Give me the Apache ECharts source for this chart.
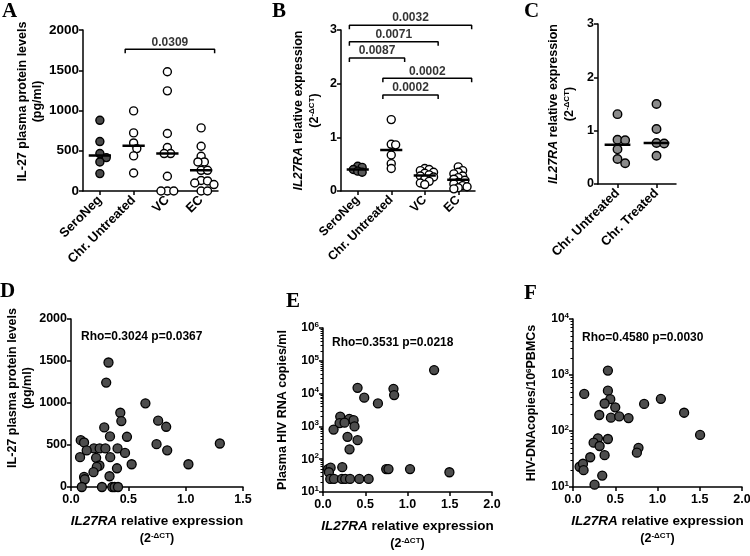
<!DOCTYPE html>
<html>
<head>
<meta charset="utf-8">
<script src="https://cdn.jsdelivr.net/npm/echarts@6/dist/echarts.min.js"></script>
<style>
html, body { margin: 0; padding: 0; background: #fff; }
#charts { width: 750px; height: 556px; }
</style>
</head>
<body>
<div id="charts"></div>
<script>
// ---- data ----
var groupCats = ['SeroNeg', 'Chr. Untreated', 'VC', 'EC'];
var treatCats = ['Chr. Untreated', 'Chr. Treated'];

// A: IL-27 plasma protein levels (pg/ml)
var il27SeroNeg = [878, 614, 465, 415, 361, 216];
var il27ChrUntreated = [995, 722, 597, 527, 436, 224];
var il27VC = [1481, 1244, 714, 540, 465, 465, 183, 0, 0, 0];
var il27EC = [784, 556, 432, 361, 361, 257, 257, 130, 125, 100, 80, 0, 0];
var aBrackets = [[1, 3, 1760, '0.0309']];

// B: IL27RA relative expression
var raSeroNeg = [0.46, 0.44, 0.40, 0.37, 0.35];
var raChrUntreated = [1.33, 0.87, 0.86, 0.67, 0.51, 0.42];
var raVC = [0.42, 0.40, 0.38, 0.35, 0.33, 0.30, 0.28, 0.26, 0.22, 0.18, 0.15, 0.12];
var raEC = [0.45, 0.38, 0.35, 0.32, 0.28, 0.25, 0.22, 0.20, 0.16, 0.13, 0.10, 0.08, 0.06, 0.04];
var bBrackets = [
  [0, 3, 3.09, '0.0032'],
  [0, 2, 2.78, '0.0071'],
  [0, 1, 2.48, '0.0087'],
  [1, 3, 2.10, '0.0002'],
  [1, 2, 1.79, '0.0002']
];

// C: IL27RA relative expression, untreated vs treated
var cChrUntreated = [1.31, 0.83, 0.82, 0.65, 0.47, 0.39];
var cChrTreated = [1.50, 1.03, 0.77, 0.76, 0.53];

// D: IL27RA vs IL-27
var dX = [0.327, 0.307, 0.649, 0.43, 0.439, 0.76, 0.83, 0.29, 0.34, 0.488, 0.085, 0.114, 1.298, 0.746, 0.20, 0.25, 0.30, 0.406, 0.137, 0.839, 0.471, 0.079, 0.219, 0.342, 0.248, 0.225, 0.529, 1.024, 0.401, 0.196, 0.336, 0.114, 0.12, 0.094, 0.27, 0.36, 0.38, 0.41];
var dY = [1482, 1243, 996, 884, 785, 789, 717, 709, 602, 598, 558, 530, 518, 510, 459, 459, 459, 459, 435, 437, 406, 355, 347, 355, 256, 239, 271, 271, 223, 176, 128, 120, 92, 0, 0, 0, 0, 0];
var dStat = 'Rho=0.3024 p=0.0367';

// E: IL27RA vs plasma HIV RNA
var eX = [1.315, 0.409, 0.834, 0.842, 0.488, 0.65, 0.204, 0.311, 0.362, 0.196, 0.255, 0.373, 0.125, 0.29, 0.409, 0.314, 0.06, 0.09, 0.07, 0.228, 0.748, 0.775, 1.03, 1.496, 0.086, 0.13, 0.224, 0.263, 0.32, 0.43, 0.54];
var eY = [52000, 15000, 14000, 9000, 7500, 5000, 2000, 1700, 1550, 1250, 1300, 1000, 800, 480, 380, 200, 50, 55, 40, 57, 50, 50, 50, 40, 25, 25, 25, 25, 25, 25, 25];
var eStat = 'Rho=0.3531 p=0.0218';

// F: IL27RA vs HIV-DNA
var fX = [0.413, 0.133, 0.413, 0.441, 1.04, 0.374, 0.842, 0.50, 1.315, 0.311, 0.449, 0.547, 0.657, 1.504, 0.295, 0.413, 0.244, 0.315, 0.775, 0.756, 0.374, 0.204, 0.078, 0.118, 0.125, 0.346, 0.255];
var fY = [1200, 460, 525, 370, 375, 310, 305, 265, 212, 193, 173, 182, 170, 85, 74, 72, 62, 54, 50, 41, 37, 34, 23, 26, 20, 16, 11];
var fStat = 'Rho=0.4580 p=0.0030';

// ---- helpers ----
var FONT = 'Liberation Sans';
var BLACK = '#000';

function merge(a, b) {
  var o = Object.assign({}, a);
  for (var k in b) {
    if (b[k] && typeof b[k] === 'object' && !Array.isArray(b[k]) && a[k] && typeof a[k] === 'object') o[k] = merge(a[k], b[k]);
    else o[k] = b[k];
  }
  return o;
}
function median(arr) {
  var s = arr.slice().sort(function (a, b) { return a - b; });
  var m = Math.floor(s.length / 2);
  return s.length % 2 ? s[m] : (s[m - 1] + s[m]) / 2;
}
// simple beeswarm: horizontal pixel offsets so dots don't pile up
function swarm(vals, pxY, diam, gap) {
  var placed = [], offs = [];
  var order = vals.map(function (v, i) { return i; }).sort(function (a, b) { return vals[b] - vals[a]; });
  order.forEach(function (i) {
    var y = vals[i] * pxY;
    for (var k = 0; k < 40; k++) {
      var x = k === 0 ? 0 : (k % 2 ? 1 : -1) * Math.ceil(k / 2) * diam * gap * 0.5;
      var ok = placed.every(function (p) { return Math.hypot(p[0] - x, p[1] - y) >= diam * gap; });
      if (ok) { placed.push([x, y]); offs[i] = x; break; }
    }
  });
  return offs;
}

var rich = {
  it: { fontStyle: 'italic', fontWeight: 'bold', fontSize: 12.5, fontFamily: FONT, color: BLACK, lineHeight: 16 },
  n: { fontWeight: 'bold', fontSize: 12.5, fontFamily: FONT, color: BLACK, lineHeight: 16 },
  itx: { fontStyle: 'italic', fontWeight: 'bold', fontSize: 13.5, fontFamily: FONT, color: BLACK, lineHeight: 18 },
  nx: { fontWeight: 'bold', fontSize: 13.5, fontFamily: FONT, color: BLACK, lineHeight: 18 },
  nx2: { fontWeight: 'bold', fontSize: 12.5, fontFamily: FONT, color: BLACK, lineHeight: 18 },
  sup: { fontWeight: 'bold', fontSize: 8, fontFamily: FONT, color: BLACK, padding: [0, 0, 7, 0] }
};
var exprName = '{it|IL27RA}{n| relative expression}\n{n|(2}{sup|-\u0394CT}{n|)}';
var exprNameX = '{itx|IL27RA}{nx| relative expression}\n{nx2|(2}{sup|-\u0394CT}{nx2|)}';

var axisBase = {
  axisLine: { show: true, onZero: false, lineStyle: { color: BLACK, width: 1.5 } },
  axisTick: { show: true, length: 4, lineStyle: { color: BLACK, width: 1.5 } },
  axisLabel: { color: BLACK, fontFamily: FONT, fontWeight: 'bold', fontSize: 12, margin: 4 },
  splitLine: { show: false },
  nameTextStyle: { color: BLACK, fontFamily: FONT, fontWeight: 'bold', fontSize: 12.5, lineHeight: 15, rich: rich }
};
function ax(extra) { return merge(axisBase, extra); }
var plain = function (v) { return String(v); };
var oneDec = function (v) { return v.toFixed(1); };

var grids = [
  { left: 83, top: 30, width: 135, height: 161 },
  { left: 341, top: 30, width: 134, height: 161 },
  { left: 598, top: 24, width: 78, height: 160 },
  { left: 71, top: 319, width: 172, height: 168 },
  { left: 323, top: 328, width: 169, height: 164 },
  { left: 573, top: 319, width: 169, height: 168 }
];
grids.forEach(function (g) { g.outerBoundsMode = 'none'; g.containLabel = false; });

var catAxis = function (grid, cats, size) {
  return ax({
    type: 'category', gridIndex: grid, data: cats, boundaryGap: true,
    axisTick: { alignWithLabel: true },
    axisLabel: { rotate: 45, interval: 0, margin: 7, fontSize: size }
  });
};
var hiddenAxis = function (grid, n) {
  return { type: 'value', gridIndex: grid, min: -0.5, max: n - 0.5, show: false };
};

var xAxes = [
  catAxis(0, groupCats, 13), hiddenAxis(0, 4),
  catAxis(1, groupCats, 12.5), hiddenAxis(1, 4),
  catAxis(2, treatCats, 13), hiddenAxis(2, 2),
  ax({ type: 'value', gridIndex: 3, min: 0, max: 1.5, interval: 0.5, axisLabel: { formatter: oneDec, fontSize: 12.5, margin: 6 },
       name: exprNameX, nameLocation: 'middle', nameGap: 25 }),
  ax({ type: 'value', gridIndex: 4, min: 0, max: 2, interval: 0.5, axisLabel: { formatter: oneDec, fontSize: 12.5, margin: 6 },
       name: exprNameX, nameLocation: 'middle', nameGap: 25 }),
  ax({ type: 'value', gridIndex: 5, min: 0, max: 2, interval: 0.5, axisLabel: { formatter: oneDec, fontSize: 12.5, margin: 6 },
       name: exprNameX, nameLocation: 'middle', nameGap: 25 })
];

var logLabel = function (v) { return '{b|10}{s|' + Math.round(Math.log10(v)) + '}'; };
var logRich = {
  b: { fontWeight: 'bold', fontSize: 12, fontFamily: FONT, color: BLACK },
  s: { fontWeight: 'bold', fontSize: 8, fontFamily: FONT, color: BLACK, padding: [0, 0, 7, 0] }
};
var logMinor = { show: true, splitNumber: 9, length: 2.5, lineStyle: { color: BLACK, width: 1 } };

var yAxes = [
  ax({ type: 'value', gridIndex: 0, min: 0, max: 2000, interval: 500,
       axisLabel: { formatter: plain, fontSize: 13.5 },
       name: 'IL-27 plasma protein levels\n(pg/ml)', nameLocation: 'middle', nameRotate: 90, nameGap: 38,
       nameTextStyle: { padding: [0, 0, 0, 18] } }),
  ax({ type: 'value', gridIndex: 1, min: 0, max: 3, interval: 1, axisLabel: { fontSize: 12.5 },
       name: exprName, nameLocation: 'middle', nameRotate: 90, nameGap: 18 }),
  ax({ type: 'value', gridIndex: 2, min: 0, max: 3, interval: 1, axisLabel: { fontSize: 12.5 },
       name: exprName, nameLocation: 'middle', nameRotate: 90, nameGap: 20 }),
  ax({ type: 'value', gridIndex: 3, min: 0, max: 2000, interval: 500,
       axisLabel: { formatter: plain, fontSize: 12.5 },
       name: 'IL-27 plasma protein levels\n(pg/ml)', nameLocation: 'middle', nameRotate: 90, nameGap: 31,
       nameTextStyle: { padding: [0, 0, 0, 30] } }),
  ax({ type: 'log', gridIndex: 4, min: 10, max: 1000000, logBase: 10,
       axisLabel: { formatter: logLabel, rich: logRich }, minorTick: logMinor,
       name: 'Plasma HIV RNA copies/ml', nameLocation: 'middle', nameRotate: 90, nameGap: 33 }),
  ax({ type: 'log', gridIndex: 5, min: 10, max: 10000, logBase: 10,
       axisLabel: { formatter: logLabel, rich: logRich }, minorTick: logMinor,
       name: '{n|HIV-DNAcopies/10}{sup|6}{n|PBMCs}', nameLocation: 'middle', nameRotate: 90, nameGap: 33 })
];

var series = [];

function groupPanel(p) {
  var g = grids[p.grid];
  var pxY = g.height / p.yMax, pxCat = g.width / p.groups.length;
  p.groups.forEach(function (grp, i) {
    var offs = swarm(grp.vals, pxY, p.diam, p.gap);
    series.push({
      type: 'scatter', xAxisIndex: p.xVal, yAxisIndex: p.y, symbolSize: p.diam, z: 3,
      data: grp.vals.map(function (v, k) { return [i + offs[k] / pxCat, v]; }),
      itemStyle: { color: grp.fill, borderColor: BLACK, borderWidth: 1.4, opacity: 1 }
    });
    var m = median(grp.vals);
    series.push({
      type: 'line', xAxisIndex: p.xVal, yAxisIndex: p.y, symbol: 'none', z: 4,
      data: [[i - 0.33, m], [i + 0.33, m]],
      lineStyle: { color: BLACK, width: 2.5 }
    });
  });
  var leg = 4 / pxY;
  (p.brackets || []).forEach(function (b) {
    var x1 = b[0] - 0.25, x2 = b[1] + 0.4;
    series.push({
      type: 'line', xAxisIndex: p.xVal, yAxisIndex: p.y, symbol: 'none', clip: false, z: 5,
      data: [[x1, b[2] - leg], [x1, b[2]], [x2, b[2]], [x2, b[2] - leg]],
      lineStyle: { color: BLACK, width: 1.5 }
    });
    series.push({
      type: 'scatter', xAxisIndex: p.xVal, yAxisIndex: p.y, symbolSize: 0.1, clip: false, z: 5,
      data: [[(x1 + x2) / 2, b[2]]],
      itemStyle: { color: 'rgba(0,0,0,0)' },
      label: { show: true, position: 'top', distance: 1, formatter: b[3],
               color: BLACK, fontFamily: FONT, fontWeight: 'bold', fontSize: 12 }
    });
  });
}

groupPanel({ grid: 0, xVal: 1, y: 0, yMax: 2000, diam: 8, gap: 0.8, brackets: aBrackets, groups: [
  { vals: il27SeroNeg, fill: '#4a4a4a' },
  { vals: il27ChrUntreated, fill: '#fff' },
  { vals: il27VC, fill: '#fff' },
  { vals: il27EC, fill: '#fff' }
] });
groupPanel({ grid: 1, xVal: 3, y: 1, yMax: 3, diam: 8, gap: 0.55, brackets: bBrackets, groups: [
  { vals: raSeroNeg, fill: '#595959' },
  { vals: raChrUntreated, fill: '#fff' },
  { vals: raVC, fill: '#fff' },
  { vals: raEC, fill: '#fff' }
] });
groupPanel({ grid: 2, xVal: 5, y: 2, yMax: 3, diam: 8.5, gap: 0.9, groups: [
  { vals: cChrUntreated, fill: '#8a8a8a' },
  { vals: cChrTreated, fill: '#8a8a8a' }
] });

function scatterPanel(xi, yi, xs, ys) {
  series.push({
    type: 'scatter', xAxisIndex: xi, yAxisIndex: yi, symbolSize: 9, z: 3,
    data: xs.map(function (x, i) { return [x, ys[i]]; }),
    itemStyle: { color: '#4d4d4d', borderColor: BLACK, borderWidth: 1.3, opacity: 1 }
  });
}
scatterPanel(6, 3, dX, dY);
scatterPanel(7, 4, eX, eY);
scatterPanel(8, 5, fX, fY);

function letter(t, left, top) {
  return { type: 'text', left: left, top: top, style: { text: t, font: 'bold 21px "Liberation Serif"', fill: BLACK } };
}
function note(t, left, top) {
  return { type: 'text', left: left, top: top, style: { text: t, font: 'bold 12px "Liberation Sans"', fill: BLACK } };
}

var option = {
  animation: false,
  textStyle: { fontFamily: FONT },
  grid: grids,
  xAxis: xAxes,
  yAxis: yAxes,
  series: series,
  graphic: [
    letter('A', 2, 1), letter('B', 272, 1), letter('C', 524, 1),
    letter('D', 0, 281), letter('E', 286, 291), letter('F', 524, 283),
    note(dStat, 81, 331), note(eStat, 332, 337), note(fStat, 582, 332)
  ]
};

var myChart = echarts.init(document.getElementById('charts'));
myChart.setOption(option);
</script>
</body>
</html>
